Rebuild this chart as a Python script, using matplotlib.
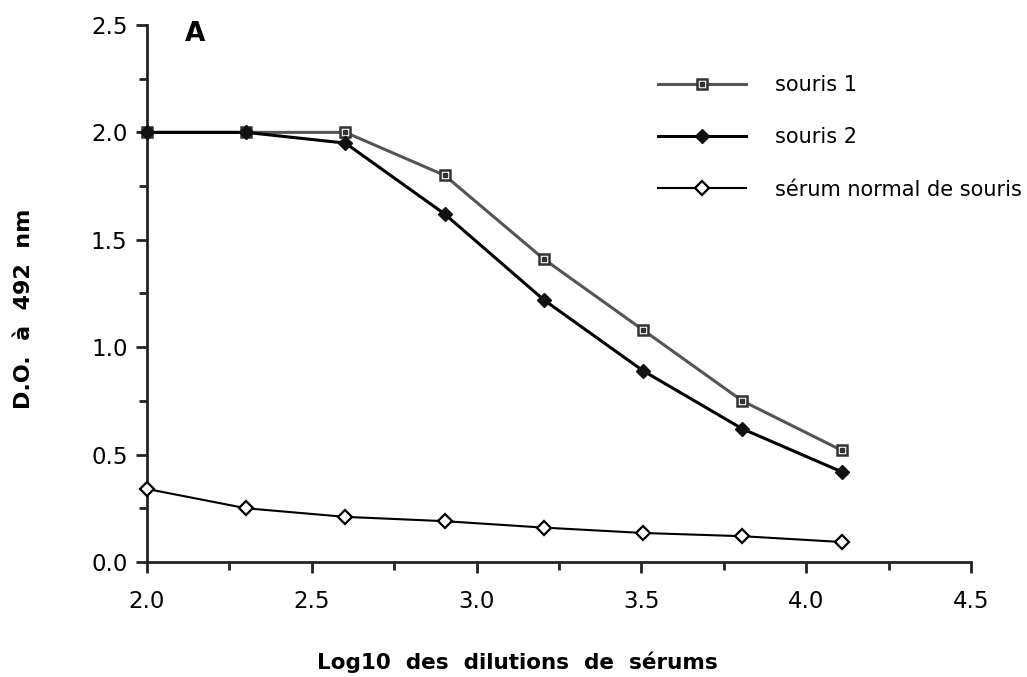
import numpy as np
import matplotlib
matplotlib.use("Agg")
import matplotlib.pyplot as plt
from matplotlib.ticker import MultipleLocator
from matplotlib.legend_handler import HandlerTuple

# dilutions 1/100 ... 1/12800
dilutions = [100, 200, 400, 800, 1600, 3200, 6400, 12800]
souris1 = [2.00, 2.00, 2.00, 1.80, 1.41, 1.08, 0.75, 0.52]
souris2 = [2.00, 2.00, 1.95, 1.62, 1.22, 0.89, 0.62, 0.42]
serum_normal = [0.34, 0.25, 0.21, 0.19, 0.16, 0.135, 0.12, 0.093]

labels = ["souris 1", "souris 2", "sérum normal de souris"]

x = np.log10(dilutions)

plt.rcParams['font.family'] = ['DejaVu Sans']

fig = plt.figure(figsize=(10.27, 6.77), dpi=100)
ax = fig.add_axes([0.1431, 0.1699, 0.8024, 0.7932])

# souris 1 : carré ouvert avec point central
l1, = ax.plot(x, souris1, color="#555555", lw=2.2, marker="s", ms=7.5,
              mfc="white", mec="#333333", mew=1.8, clip_on=False, zorder=3)
d1, = ax.plot(x, souris1, ls="none", marker="s", ms=2.2, color="#333333",
              clip_on=False, zorder=4)
# souris 2 : losange plein
l2, = ax.plot(x, souris2, color="black", lw=2.2, marker="D", ms=7,
              mfc="#111111", mec="#111111", clip_on=False, zorder=5)
# sérum normal : losange ouvert
l3, = ax.plot(x, serum_normal, color="black", lw=1.5, marker="D", ms=7,
              mfc="white", mec="black", mew=1.6, clip_on=False, zorder=3)

ax.set_xlim(2.0, 4.5)
ax.set_ylim(0.0, 2.5)
ax.xaxis.set_major_locator(MultipleLocator(0.5))
ax.xaxis.set_minor_locator(MultipleLocator(0.25))
ax.yaxis.set_major_locator(MultipleLocator(0.5))
ax.yaxis.set_minor_locator(MultipleLocator(0.25))
ax.xaxis.set_major_formatter(lambda v, p: f"{v:.1f}")
ax.yaxis.set_major_formatter(lambda v, p: f"{v:.1f}")

for s in ["top", "right"]:
    ax.spines[s].set_visible(False)
for s in ["left", "bottom"]:
    ax.spines[s].set_linewidth(2)
    ax.spines[s].set_color("#222222")

ax.tick_params(which="major", length=8, width=2, color="#222222",
               labelsize=16.5)
ax.tick_params(axis="x", which="major", pad=12)
ax.tick_params(axis="y", which="major", pad=6)
ax.tick_params(which="minor", length=6, width=2, color="#222222")

ax.set_xlabel("Log10  des  dilutions  de  sérums", fontsize=15.5,
              fontweight="bold")
ax.set_ylabel("D.O.  à  492  nm", fontsize=16, fontweight="bold")
ax.xaxis.set_label_coords(0.450, -0.186)
ax.yaxis.set_label_coords(-0.149, 0.471)
ax.xaxis.label.set_va("center")
ax.yaxis.label.set_va("center")

fig.text(0.19, 0.950, "A", fontsize=19, fontweight="bold",
         ha="center", va="center")

leg = ax.legend([(l1, d1), l2, l3], labels,
                handler_map={tuple: HandlerTuple(ndivide=1, pad=0)},
                loc="upper left", bbox_to_anchor=(658 / 1027, 1 - 75 / 677),
                bbox_transform=fig.transFigure, frameon=False, fontsize=15,
                handlelength=4.2, handletextpad=1.4, labelspacing=1.55,
                borderpad=0, borderaxespad=0)

fig.savefig("out.png", dpi=100)
